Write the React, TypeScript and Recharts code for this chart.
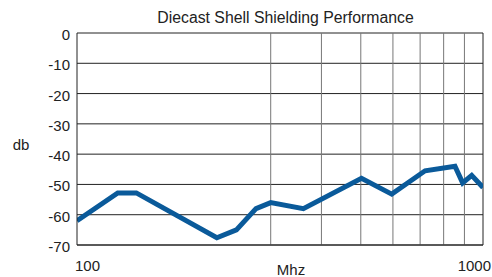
import React from 'react';
import { LineChart, Line, XAxis, YAxis, CartesianGrid, ReferenceLine, Label } from 'recharts';

const freqs = [100, 126, 140, 221, 247, 276, 300, 361, 502, 596, 720, 853, 891, 938, 1000];
const dbValues = [-62, -52.8, -52.8, -67.6, -65, -58, -56, -58, -48, -53.2, -45.5, -44, -49.5, -47, -51];
const yTicks = [0, -10, -20, -30, -40, -50, -60, -70];
const xTicks = [100, 1000];
const gridFreqs = [300, 400, 500, 600, 700, 800, 900];

const data = freqs.map((f, i) => ({ f, db: dbValues[i] }));
const FONT = '"Liberation Sans", Arial, Helvetica, sans-serif';

const XTick = (props: any) => {
  const { x, y, payload } = props;
  const isFirst = payload.value === 100;
  return (
    <text
      x={isFirst ? x - 2 : x + 8}
      y={y + 18}
      textAnchor={isFirst ? 'start' : 'end'}
      fontSize={15}
      fontFamily={FONT}
      fill="#222"
    >
      {payload.value}
    </text>
  );
};

const YTick = (props: any) => {
  const { x, y, payload } = props;
  return (
    <text x={x} y={y + 7} textAnchor="end" fontSize={15} fontFamily={FONT} fill="#222">
      {payload.value}
    </text>
  );
};

export default function App() {
  return (
    <div style={{ position: 'absolute', left: 0, top: 0, width: 492, height: 277, background: '#fff' }}>
      <div
        style={{
          position: 'absolute',
          left: 0,
          width: 571,
          top: 9,
          textAlign: 'center',
          fontFamily: FONT,
          fontSize: 15.8,
          color: '#222',
          lineHeight: '18px',
        }}
      >
        Diecast Shell Shielding Performance
      </div>
      <LineChart width={492} height={277} data={data} margin={{ top: 33, right: 9, left: 0, bottom: 0 }}>
        <CartesianGrid vertical={false} stroke="#222" strokeWidth={1} />
        {gridFreqs.map((g) => (
          <ReferenceLine key={g} x={g} stroke="#777" strokeWidth={1} />
        ))}
        <ReferenceLine x={1000} stroke="#222" strokeWidth={1} />
        <XAxis
          dataKey="f"
          type="number"
          scale="log"
          domain={[100, 1000]}
          ticks={xTicks}
          allowDataOverflow
          height={32}
          tickLine={false}
          axisLine={{ stroke: '#222' }}
          tick={<XTick />}
          interval={0}
        >
          <Label
            content={() => (
              <text x={291} y={275} textAnchor="middle" fontSize={15} fontFamily={FONT} fill="#222">
                Mhz
              </text>
            )}
          />
        </XAxis>
        <YAxis
          type="number"
          domain={[-70, 0]}
          ticks={yTicks}
          width={77}
          tickLine={false}
          axisLine={{ stroke: '#222' }}
          tickSize={5}
          tickMargin={2}
          tick={<YTick />}
          interval={0}
        >
          <Label
            content={() => (
              <text x={21} y={150} textAnchor="middle" fontSize={15} fontFamily={FONT} fill="#222">
                db
              </text>
            )}
          />
        </YAxis>
        <Line
          type="linear"
          dataKey="db"
          stroke="#0a5a9a"
          strokeWidth={5}
          dot={false}
          isAnimationActive={false}
          strokeLinejoin="miter"
        />
      </LineChart>
    </div>
  );
}
